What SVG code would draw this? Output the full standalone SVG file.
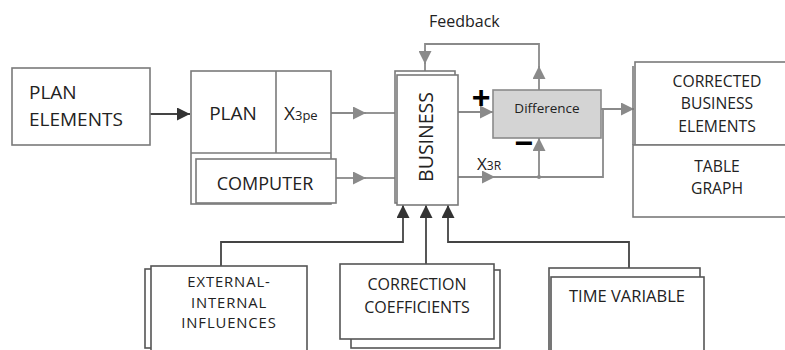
<svg xmlns="http://www.w3.org/2000/svg" width="785" height="350" viewBox="0 0 785 350">
<style>
.box{fill:#fff;stroke:#7a7a7a;stroke-width:1.6}
.dbox{fill:#fff;stroke:#555;stroke-width:1.6}
.t{font-family:"Open Sans","Liberation Sans",sans-serif;fill:#222}
.g{fill:none;stroke:#8a8a8a;stroke-width:1.8}
.k{fill:none;stroke:#444;stroke-width:1.8}
.sign{font-family:"Liberation Sans",Arial,sans-serif;font-weight:bold;fill:#000}
</style>
<defs>
<marker id="ak" viewBox="0 0 10 10" refX="10" refY="5" markerWidth="13" markerHeight="13" orient="auto" markerUnits="userSpaceOnUse">
<path d="M0,0 L10,5 L0,10 z" fill="#333"/>
</marker>
<marker id="agm" viewBox="0 0 10 10" refX="10" refY="5" markerWidth="13" markerHeight="13" orient="auto" markerUnits="userSpaceOnUse">
<path d="M0,0 L10,5 L0,10 z" fill="#8a8a8a"/>
</marker>
</defs>

<g id="connectors">
<line class="k" x1="150" y1="114" x2="190" y2="114" marker-end="url(#ak)"/>
<line class="g" x1="331" y1="113" x2="366" y2="113" marker-end="url(#agm)"/>
<line class="g" x1="364" y1="113" x2="396" y2="113"/>
<line class="g" x1="336" y1="178" x2="366" y2="178" marker-end="url(#agm)"/>
<line class="g" x1="364" y1="178" x2="396" y2="178"/>
<line class="g" x1="458" y1="112" x2="493" y2="112" marker-end="url(#agm)"/>
<line class="g" x1="458" y1="177" x2="495" y2="177" marker-end="url(#agm)"/>
<polyline class="g" points="493,177 603,177 603,109 620,109"/>
<line class="g" x1="601" y1="109" x2="634" y2="109" marker-end="url(#agm)"/>
<line class="g" x1="539" y1="177" x2="539" y2="138" marker-end="url(#agm)"/>
<circle cx="539" cy="177" r="2" fill="#8a8a8a"/>
<line class="g" x1="539" y1="90" x2="539" y2="66" marker-end="url(#agm)"/>
<polyline class="g" points="539,68 539,44 425,44 425,60"/>
<line class="g" x1="425" y1="50" x2="425" y2="64" marker-end="url(#agm)"/>
<line class="g" x1="425" y1="62" x2="425" y2="71"/>
<polyline class="k" points="221,266 221,242 403,242 403,205" marker-end="url(#ak)"/>
<line class="k" x1="426" y1="264" x2="426" y2="205" marker-end="url(#ak)"/>
<polyline class="k" points="629,268 629,242 448,242 448,205" marker-end="url(#ak)"/>
</g>

<g id="plan-elements">
<rect class="box" x="12" y="68" width="138" height="77"/>
<text class="t" x="29" y="99" font-size="19">PLAN</text>
<text class="t" x="29" y="126" font-size="19">ELEMENTS</text>
</g>

<g id="plan">
<rect class="box" x="191" y="71" width="140" height="133"/>
<line class="box" x1="191" y1="153" x2="331" y2="153"/>
<line class="box" x1="276" y1="71" x2="276" y2="153"/>
<text class="t" x="233" y="120" font-size="19" text-anchor="middle">PLAN</text>
<text class="t" x="284" y="120" font-size="19">X<tspan font-size="13">3pe</tspan></text>
</g>

<g id="computer">
<rect class="box" x="196" y="159" width="140" height="44"/>
<text class="t" x="265" y="190" font-size="18" text-anchor="middle">COMPUTER</text>
</g>

<g id="business">
<rect class="box" x="395" y="71" width="60" height="132"/>
<rect class="box" x="397" y="75" width="61" height="130"/>
<text class="t" font-size="19.5" text-anchor="middle" transform="translate(433,137) rotate(-90)">BUSINESS</text>
</g>

<g id="difference">
<rect x="493" y="90" width="108" height="48" fill="#d4d4d4" stroke="#8a8a8a" stroke-width="1.6"/>
<text class="t" x="547" y="113" font-size="13.5" text-anchor="middle">Difference</text>
</g>

<g id="signs">
<text class="sign" x="481" y="108" font-size="32" text-anchor="middle">+</text>
<text class="sign" x="524" y="154" font-size="32" text-anchor="middle">−</text>
</g>

<g id="labels">
<text class="t" x="429" y="27" font-size="16">Feedback</text>
<text class="t" x="477" y="170" font-size="17">X<tspan font-size="12">3R</tspan></text>
</g>

<g id="corrected">
<rect class="box" x="635" y="62" width="160" height="83"/>
<line class="box" x1="633" y1="66" x2="633" y2="145"/>
<text class="t" x="717" y="87" font-size="15.7" text-anchor="middle">CORRECTED</text>
<text class="t" x="717" y="109" font-size="15.7" text-anchor="middle">BUSINESS</text>
<text class="t" x="717" y="132" font-size="15.7" text-anchor="middle">ELEMENTS</text>
</g>

<g id="table-graph">
<rect class="box" x="633" y="145" width="162" height="72"/>
<text class="t" x="717" y="172" font-size="15.7" text-anchor="middle">TABLE</text>
<text class="t" x="717" y="194" font-size="15.7" text-anchor="middle">GRAPH</text>
</g>

<g id="external">
<rect class="dbox" x="145" y="269" width="150" height="79"/>
<rect class="dbox" x="151" y="266" width="156" height="90"/>
<text class="t" x="229" y="287" font-size="14.8" letter-spacing="0.9" text-anchor="middle">EXTERNAL-</text>
<text class="t" x="229" y="307.5" font-size="14.8" letter-spacing="0.9" text-anchor="middle">INTERNAL</text>
<text class="t" x="229" y="328" font-size="14.8" letter-spacing="0.9" text-anchor="middle">INFLUENCES</text>
</g>

<g id="correction">
<rect class="dbox" x="351" y="270" width="149" height="78"/>
<rect class="dbox" x="340" y="264" width="154" height="75"/>
<text class="t" x="417" y="290" font-size="16" text-anchor="middle">CORRECTION</text>
<text class="t" x="417" y="313" font-size="16" text-anchor="middle">COEFFICIENTS</text>
</g>

<g id="time-variable">
<rect class="dbox" x="549" y="268" width="151" height="90"/>
<rect class="dbox" x="551" y="277" width="153" height="90"/>
<text class="t" x="627" y="302" font-size="16.5" text-anchor="middle">TIME VARIABLE</text>
</g>
</svg>
